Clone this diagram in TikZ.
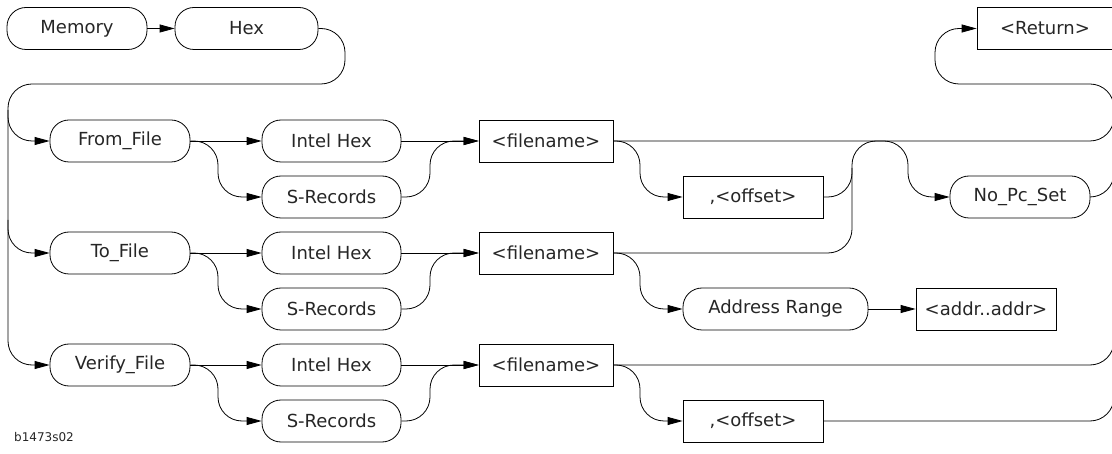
\documentclass[tikz,border=0pt]{standalone}
\usepackage{fontspec}
\setmainfont{DejaVu Sans}
\usetikzlibrary{arrows.meta}
\begin{document}
\begin{tikzpicture}[x=1pt,y=-1pt,
  txt/.style={font=\fontsize{18}{20}\selectfont, text=black!85},
  pill/.style={txt, draw, line width=0.8pt, rounded corners=19pt, minimum height=42pt, inner sep=0pt},
  boxn/.style={txt, draw, line width=0.8pt, rectangle, minimum height=42pt, inner sep=0pt},
  conn/.style={line width=0.8pt, rounded corners=24pt},
  arr/.style={-{Triangle[length=15pt,width=8pt]}}]
\useasboundingbox (0,0) rectangle (1112,454);
\clip (0,0) rectangle (1112,454);

% nodes
\node[pill, minimum width=140pt] (mem) at (77,28.5) {Memory};
\node[pill, minimum width=143pt] (hex) at (246.5,28.5) {Hex};
\node[boxn, minimum width=136pt] (ret) at (1045,28.5) {<Return>};

\node[pill, minimum width=140pt] (from) at (120,141) {From\_File};
\node[pill, minimum width=140pt] (to) at (120,253) {To\_File};
\node[pill, minimum width=140pt] (ver) at (120,365) {Verify\_File};

\node[pill, minimum width=139pt] (ih1) at (331.5,141) {Intel Hex};
\node[pill, minimum width=139pt] (sr1) at (331.5,197) {S-Records};
\node[pill, minimum width=139pt] (ih2) at (331.5,253) {Intel Hex};
\node[pill, minimum width=139pt] (sr2) at (331.5,309) {S-Records};
\node[pill, minimum width=139pt] (ih3) at (331.5,365) {Intel Hex};
\node[pill, minimum width=139pt] (sr3) at (331.5,421) {S-Records};

\node[boxn, minimum width=134pt] (fn1) at (546,141) {<filename>};
\node[boxn, minimum width=134pt] (fn2) at (546,253) {<filename>};
\node[boxn, minimum width=134pt] (fn3) at (546,365) {<filename>};

\node[boxn, minimum width=140pt] (off1) at (753,197) {,<offset>};
\node[pill, minimum width=185pt] (addr) at (775.5,309) {Address Range};
\node[boxn, minimum width=140pt] (ab) at (986,309) {<addr..addr>};
\node[boxn, minimum width=140pt] (off3) at (753,421) {,<offset>};

\node[pill, minimum width=140pt] (nopc) at (1020,197) {No\_Pc\_Set};

\node[font=\fontsize{12}{14}\selectfont, text=black!85, anchor=west, inner sep=0pt] (lab) at (14,437) {b1473s02};

% connectors
\draw[conn, arr] (mem.east) -- (hex.west);
\draw[conn, arr] (hex.east) -- (345,28.5) -- (345,84) -- (8,84) -- (8,365) -- (ver.west);
\draw[conn, arr] (8,110) -- (8,141) -- (from.west);
\draw[conn, arr] (8,220) -- (8,253) -- (to.west);

\foreach \r/\ih/\sr/\fn in {from/ih1/sr1/fn1, to/ih2/sr2/fn2, ver/ih3/sr3/fn3}{
  \draw[conn, arr] (\r.east) -- (\ih.west);
  \draw[conn, arr] (\r.east) -- (218,0 |- \r.east) -- (218,0 |- \sr.west) -- (\sr.west);
  \draw[conn, arr] (\ih.east) -- (\fn.west);
  \draw[conn, arr] (\sr.east) -- (430,0 |- \sr.west) -- (430,0 |- \fn.west) -- (\fn.west);
}

% row 1
\draw[conn, arr] (fn1.east) -- (1114,141) -- (1114,84) -- (935,84) -- (935,28.5) -- (ret.west);
\draw[conn, arr] (fn1.east) -- (640,141) -- (640,197) -- (off1.west);
\draw[conn] (off1.east) -- (852,197) -- (852,168);
% row 2
\draw[conn, arr] (fn2.east) -- (852,253) -- (852,141) -- (908,141) -- (908,197) -- (nopc.west);
\draw[conn, arr] (fn2.east) -- (640,253) -- (640,309) -- (addr.west);
\draw[conn, arr] (addr.east) -- (ab.west);
\draw[conn] (nopc.east) -- (1114,197) -- (1114,165);
% row 3
\draw[conn] (fn3.east) -- (1114,365) -- (1114,333);
\draw[conn, arr] (fn3.east) -- (640,365) -- (640,421) -- (off3.west);
\draw[conn] (off3.east) -- (1114,421) -- (1114,389);
\end{tikzpicture}
\end{document}
